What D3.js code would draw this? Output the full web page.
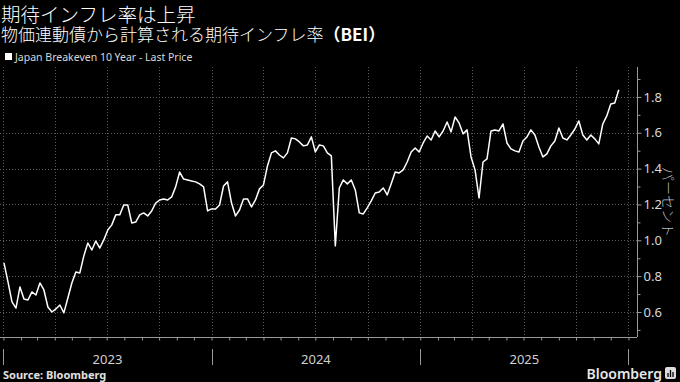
<!DOCTYPE html>
<html>
<head>
<meta charset="utf-8">
<script src="https://cdn.jsdelivr.net/npm/d3@7"></script>
<style>
  body { margin: 0; background: #000; }
  svg { display: block; }
  text { font-family: "Noto Sans", "Liberation Sans", sans-serif; }
</style>
</head>
<body>
<div id="chart"></div>
<script>
// chart text
var title = "期待インフレ率は上昇";
var subtitleMain = "物価連動債から計算される期待インフレ率";
var subtitleTail = "（BEI）";
var legendLabel = "Japan Breakeven 10 Year - Last Price";
var unitLabel = "パーセント";
var sourceLabel = "Source: Bloomberg";

// weekly observations, first week starting 2023-01-02
var firstWeek = "2023-01-02";
var beiValues = [
  0.874, 0.768, 0.656, 0.622, 0.740, 0.673, 0.667, 0.712, 0.695, 0.762,
  0.723, 0.628, 0.600, 0.617, 0.639, 0.595, 0.678, 0.762, 0.823, 0.818,
  0.913, 0.985, 0.946, 0.996, 0.957, 1.002, 1.058, 1.086, 1.142, 1.142,
  1.197, 1.197, 1.097, 1.102, 1.142, 1.153, 1.136, 1.164, 1.208, 1.225,
  1.231, 1.225, 1.242, 1.298, 1.381, 1.342, 1.337, 1.331, 1.326, 1.315,
  1.298, 1.164, 1.175, 1.175, 1.197, 1.303, 1.326, 1.208, 1.136, 1.169,
  1.231, 1.231, 1.186, 1.225, 1.287, 1.309, 1.415, 1.488, 1.499, 1.476,
  1.460, 1.488, 1.571, 1.566, 1.549, 1.527, 1.532, 1.577, 1.493, 1.532,
  1.527, 1.488, 1.471, 0.969, 1.292, 1.337, 1.315, 1.337, 1.281, 1.153,
  1.147, 1.181, 1.220, 1.264, 1.270, 1.292, 1.253, 1.315, 1.381, 1.376,
  1.393, 1.437, 1.493, 1.515, 1.493, 1.543, 1.582, 1.560, 1.610, 1.577,
  1.610, 1.660, 1.605, 1.688, 1.655, 1.594, 1.616, 1.465, 1.393, 1.236,
  1.437, 1.454, 1.610, 1.616, 1.610, 1.649, 1.543, 1.510, 1.499, 1.493,
  1.554, 1.577, 1.616, 1.588, 1.521, 1.465, 1.482, 1.527, 1.554, 1.627,
  1.571, 1.560, 1.588, 1.621, 1.666, 1.588, 1.560, 1.588, 1.566, 1.538,
  1.649, 1.694, 1.761, 1.766, 1.840
];

var yTicks = [0.6, 0.8, 1.0, 1.2, 1.4, 1.6, 1.8];
var yMinorTicks = [0.5, 0.7, 0.9, 1.1, 1.3, 1.5, 1.7, 1.9];
var yearLabels = ["2023", "2024", "2025"];

var svgWidth = 680;
var svgHeight = 382;

var plot = { left: 0, right: 637, top: 67, bottom: 337 };

var svg = d3.select("#chart")
  .append("svg")
  .attr("width", svgWidth)
  .attr("height", svgHeight)
  .style("background", "#000");

var parseDate = d3.timeParse("%Y-%m-%d");
var start = parseDate(firstWeek);
var data = beiValues.map(function(v, i) {
  return { date: d3.timeDay.offset(start, i * 7), value: v };
});

// scales
var x = d3.scaleTime()
  .domain([parseDate("2022-12-26"), parseDate("2026-01-16")])
  .range([plot.left, plot.right]);

var y = d3.scaleLinear()
  .domain([0.4605, 1.967])
  .range([plot.bottom, plot.top]);

// horizontal gridlines
svg.append("g")
  .selectAll("line")
  .data(yTicks)
  .enter()
  .append("line")
  .attr("x1", plot.left)
  .attr("x2", plot.right)
  .attr("y1", d => Math.round(y(d)) + 0.5)
  .attr("y2", d => Math.round(y(d)) + 0.5)
  .attr("stroke", "#5a5a5a")
  .attr("stroke-dasharray", "1,2");

// quarterly gridlines
var quarters = d3.timeMonth.every(3).range(parseDate("2023-01-01"), parseDate("2026-01-02"));
svg.append("g")
  .selectAll("line")
  .data(quarters)
  .enter()
  .append("line")
  .attr("x1", d => Math.round(x(d)) + 0.5)
  .attr("x2", d => Math.round(x(d)) + 0.5)
  .attr("y1", plot.top)
  .attr("y2", plot.bottom)
  .attr("stroke", "#5a5a5a")
  .attr("stroke-dasharray", "1,2");

// bottom axis with monthly ticks
var months = d3.timeMonth.range(parseDate("2023-01-01"), parseDate("2026-01-02"));
var bottomAxis = d3.axisBottom(x)
  .tickValues(months)
  .tickSize(3)
  .tickFormat("");

var gx = svg.append("g")
  .attr("transform", `translate(0, ${plot.bottom + 0.5})`)
  .call(bottomAxis);
gx.select(".domain").attr("stroke", "#999").attr("d", `M${plot.left},0H${plot.right}`);
gx.selectAll(".tick line").attr("stroke", "#999");

// right axis
var rightAxis = d3.axisRight(y)
  .tickValues(yTicks)
  .tickSize(4)
  .tickPadding(2)
  .tickFormat(d3.format(".1f"));

var gy = svg.append("g")
  .attr("transform", `translate(${plot.right + 0.5}, 0)`)
  .call(rightAxis);
gy.select(".domain").attr("stroke", "#999").attr("d", `M0,${plot.top}V${plot.bottom}`);
gy.selectAll(".tick line").attr("stroke", "#999");
gy.selectAll(".tick text")
  .attr("fill", "#d8d8d8")
  .style("font-size", "13px")
  .style("font-family", "'Noto Sans', sans-serif");

svg.append("g")
  .attr("transform", `translate(${plot.right + 0.5}, 0)`)
  .call(d3.axisRight(y).tickValues(yMinorTicks).tickSize(3).tickFormat(""))
  .call(g => g.select(".domain").remove())
  .selectAll(".tick line").attr("stroke", "#999");

// year dividers and labels
var yearStarts = d3.timeYear.range(parseDate("2023-01-01"), parseDate("2026-01-02"));
svg.append("g")
  .selectAll("line")
  .data(yearStarts)
  .enter()
  .append("line")
  .attr("x1", d => Math.round(x(d)) + 0.5)
  .attr("x2", d => Math.round(x(d)) + 0.5)
  .attr("y1", 349)
  .attr("y2", 365)
  .attr("stroke", "#999");

svg.append("g")
  .selectAll("text")
  .data(yearLabels)
  .enter()
  .append("text")
  .attr("x", d => (x(parseDate(d + "-01-01")) + x(parseDate((+d + 1) + "-01-01"))) / 2)
  .attr("y", 364)
  .attr("text-anchor", "middle")
  .attr("fill", "#d0d0d0")
  .style("font-size", "13px")
  .text(d => d);

// the line
var line = d3.line()
  .x(d => x(d.date))
  .y(d => y(d.value));

svg.append("path")
  .datum(data)
  .attr("d", line)
  .attr("fill", "none")
  .attr("stroke", "#fff")
  .attr("stroke-width", 1.5)
  .attr("stroke-linejoin", "round");

// titles
svg.append("text")
  .attr("x", 1)
  .attr("y", 22)
  .attr("fill", "#fff")
  .style("font-family", "'Noto Sans CJK JP', sans-serif")
  .style("font-size", "19.5px")
  .style("font-weight", "300")
  .text(title);

var sub = svg.append("text")
  .attr("x", 1)
  .attr("y", 41)
  .attr("fill", "#fff")
  .style("font-family", "'Noto Sans CJK JP', sans-serif")
  .style("font-size", "17px")
  .style("font-weight", "300");
sub.append("tspan").text(subtitleMain);
sub.append("tspan").style("font-weight", "bold").text(subtitleTail);

// legend
svg.append("rect")
  .attr("x", 5)
  .attr("y", 53)
  .attr("width", 7)
  .attr("height", 7)
  .attr("fill", "#fff");

svg.append("text")
  .attr("x", 15)
  .attr("y", 61)
  .attr("fill", "#d8d8d8")
  .style("font-size", "10.5px")
  .text(legendLabel);

// unit label
svg.append("text")
  .attr("transform", `translate(663, ${(plot.top + plot.bottom) / 2}) rotate(90)`)
  .attr("text-anchor", "middle")
  .attr("fill", "#bbb")
  .style("font-family", "'Noto Sans CJK JP', sans-serif")
  .style("font-size", "14px")
  .style("font-weight", "300")
  .text(unitLabel);

// footer
svg.append("text")
  .attr("x", 3)
  .attr("y", 379)
  .attr("fill", "#e0e0e0")
  .style("font-size", "11px")
  .style("font-weight", "bold")
  .text(sourceLabel);

svg.append("text")
  .attr("x", 662)
  .attr("y", 379)
  .attr("text-anchor", "end")
  .attr("fill", "#e8e8e8")
  .style("font-size", "14px")
  .style("font-weight", "600")
  .text("Bloomberg");

var logo = svg.append("g").attr("transform", "translate(665, 367)");
logo.append("rect").attr("width", 11).attr("height", 12).attr("rx", 2).attr("fill", "#ddd");
logo.selectAll("line.bar")
  .data([[3, 6], [5.5, 3], [8, 5]])
  .enter()
  .append("line")
  .attr("x1", d => d[0]).attr("x2", d => d[0])
  .attr("y1", 10).attr("y2", d => d[1])
  .attr("stroke", "#000").attr("stroke-width", 1.3);
</script>
</body>
</html>
